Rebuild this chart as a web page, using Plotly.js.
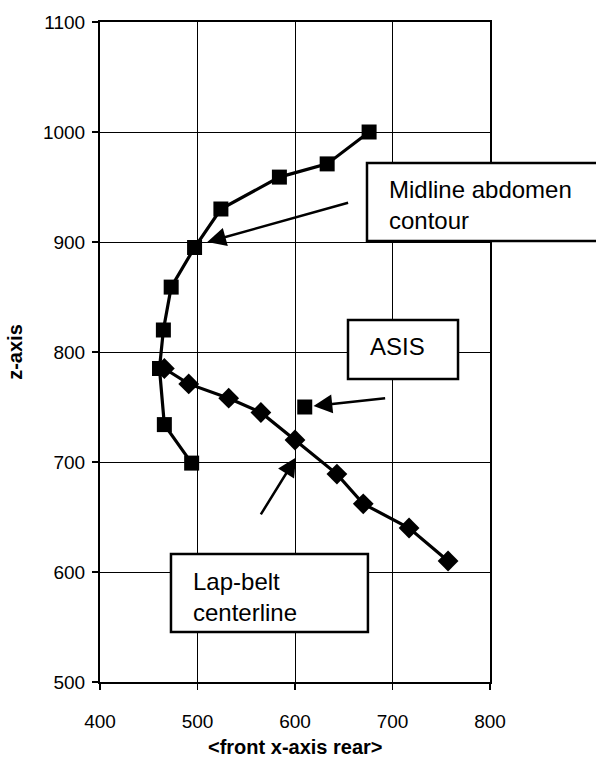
<!DOCTYPE html>
<html>
<head>
<meta charset="utf-8">
<script src="https://cdn.plot.ly/plotly-3.0.1.min.js"></script>
<style>html,body{margin:0;padding:0;background:#fff;}</style>
</head>
<body>
<div id="chart" style="width:596px;height:760px;"></div>
<script>
// Midline abdomen contour (squares)
var abdomenX = [676, 633, 584, 524, 497, 473, 465, 461, 466, 494];
var abdomenZ = [1000, 971, 959, 930, 895, 859, 820, 785, 734, 699];
// Lap-belt centerline (diamonds)
var beltX = [466, 491, 532, 565, 600, 643, 670, 717, 757];
var beltZ = [785, 771, 758, 745, 720, 689, 662, 640, 610];
// ASIS point
var asisX = [610];
var asisZ = [750];
// Axis ticks
var xTicks = [400, 500, 600, 700, 800];
var yTicks = [500, 600, 700, 800, 900, 1000, 1100];
// Labels
var labelTexts = ["Midline abdomen<br>contour", "ASIS", "Lap-belt<br>centerline"];
var xTitle = "<b>&lt;front x-axis rear&gt;</b>";
var yTitle = "<b>z-axis</b>";
// Arrows: [tailX, tailZ], [headX, headZ]
var arrowTails = [[656, 936], [694, 758], [564, 651]];
var arrowHeads = [[510, 900], [619, 751], [601, 704]];

var FONT = "Liberation Sans, Arial, Helvetica, sans-serif";

var traces = [
  {x: abdomenX, y: abdomenZ, mode: "lines+markers", type: "scatter",
   line: {color: "#000", width: 3.2},
   marker: {symbol: "square", size: 15, color: "#000"}},
  {x: beltX, y: beltZ, mode: "lines+markers", type: "scatter",
   line: {color: "#000", width: 3.2},
   marker: {symbol: "diamond", size: 16, color: "#000"}},
  {x: asisX, y: asisZ, mode: "markers", type: "scatter",
   marker: {symbol: "square", size: 15, color: "#000"}}
];

var boxes = [
  [0.6846, 0.6682, 1.40, 0.7864],
  [0.6359, 0.4591, 0.918, 0.5485],
  [0.182, 0.0758, 0.687, 0.1939]
];
var textPos = [[0.7359, 0.722], [0.687, 0.5076], [0.2333, 0.1288]];

var shapes = boxes.map(function(b){
  return {type: "rect", xref: "paper", yref: "paper", x0: b[0], y0: b[1], x1: b[2], y1: b[3],
          line: {color: "#000", width: 2.5}, fillcolor: "#fff", layer: "above"};
});

var annotations = labelTexts.map(function(t, i){
  return {text: t, xref: "paper", yref: "paper", x: textPos[i][0], y: textPos[i][1],
          xanchor: "left", yanchor: "middle", align: "left", showarrow: false,
          font: {family: FONT, size: 24, color: "#000"}};
});
arrowTails.forEach(function(tl, i){
  annotations.push({text: "", xref: "x", yref: "y", axref: "x", ayref: "y",
    x: arrowHeads[i][0], y: arrowHeads[i][1], ax: tl[0], ay: tl[1],
    showarrow: true, arrowhead: 2, arrowwidth: 2.5, arrowsize: 1.5, arrowcolor: "#000", standoff: 0});
});
// x-axis title placed as an annotation below the axis
annotations.push({text: xTitle, xref: "paper", yref: "paper", x: 0.5, y: -0.0985,
  xanchor: "center", yanchor: "middle", showarrow: false,
  font: {family: FONT, size: 20, color: "#000"}});

var layout = {
  width: 596, height: 760,
  margin: {l: 100, r: 106, t: 22, b: 78},
  paper_bgcolor: "#fff", plot_bgcolor: "#fff",
  showlegend: false,
  font: {family: FONT, color: "#000"},
  xaxis: {
    range: [400, 800], tickvals: xTicks, ticktext: xTicks.map(String),
    showgrid: true, gridcolor: "#000", gridwidth: 1, zeroline: false,
    showline: true, linecolor: "#000", linewidth: 2, mirror: true,
    ticks: "outside", ticklen: 6, tickcolor: "#000", tickwidth: 1.5,
    ticklabelstandoff: 15,
    tickfont: {family: FONT, size: 19, color: "#000"},
    automargin: false
  },
  yaxis: {
    range: [500, 1100], tickvals: yTicks, ticktext: yTicks.map(String),
    showgrid: true, gridcolor: "#000", gridwidth: 1, zeroline: false,
    showline: true, linecolor: "#000", linewidth: 2, mirror: true,
    ticks: "outside", ticklen: 6, tickcolor: "#000", tickwidth: 1.5,
    ticklabelstandoff: 3,
    tickfont: {family: FONT, size: 19, color: "#000"},
    title: {text: yTitle, font: {family: FONT, size: 20, color: "#000"}, standoff: 15},
    automargin: false
  },
  shapes: shapes,
  annotations: annotations
};

Plotly.newPlot("chart", traces, layout, {displayModeBar: false, staticPlot: true});
</script>
</body>
</html>
